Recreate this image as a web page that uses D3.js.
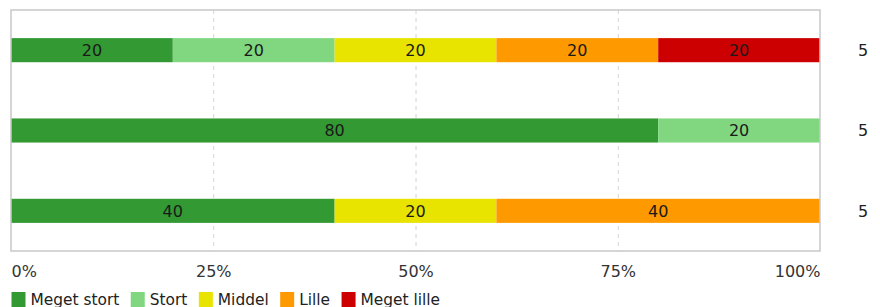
<!DOCTYPE html>
<html>
<head>
<meta charset="utf-8">
<script src="https://cdn.jsdelivr.net/npm/d3@7"></script>
<style>
  body { margin: 0; background: #fff; }
  svg { display: block; font-family: "DejaVu Sans", Verdana, sans-serif; }
</style>
</head>
<body>
<svg width="880" height="307"></svg>
<script>
// DATA
var categories = ["Meget stort", "Stort", "Middel", "Lille", "Meget lille"];
var colors = ["#339933", "#80d780", "#e8e400", "#ff9900", "#cc0000"];
var rows = ["q1", "q2", "q3"];
var meget_stort = [20, 80, 40];
var stort = [20, 20, 0];
var middel = [20, 0, 20];
var lille = [20, 0, 40];
var meget_lille = [20, 0, 0];
var counts = [5, 5, 5];
var tickValues = [0, 25, 50, 75, 100];

// SETUP
var svg = d3.select("svg"),
    margin = { top: 10, left: 11, right: 60, bottom: 56 },
    width = 880 - margin.left - margin.right,
    height = 307 - margin.top - margin.bottom,
    fontSize = "16px";

var table = rows.map(function (r, i) {
    return {
        row: r,
        "Meget stort": meget_stort[i],
        "Stort": stort[i],
        "Middel": middel[i],
        "Lille": lille[i],
        "Meget lille": meget_lille[i],
        n: counts[i]
    };
});

var x = d3.scaleLinear().domain([0, 100]).range([0, width]);
var y = d3.scaleBand().domain(rows).range([0, height]).paddingInner(0.7).paddingOuter(0.35);
var color = d3.scaleOrdinal().domain(categories).range(colors);

var g = svg.append("g")
    .attr("transform", "translate(" + margin.left + "," + margin.top + ")");

// grid
g.selectAll(".grid")
    .data(tickValues.slice(1, -1))
    .enter().append("line")
    .attr("x1", function (d) { return x(d) + 0.5; })
    .attr("x2", function (d) { return x(d) + 0.5; })
    .attr("y1", 0)
    .attr("y2", height)
    .attr("stroke", "#d4d4d4")
    .attr("stroke-dasharray", "4,4");

// bars
var stacked = d3.stack().keys(categories)(table);

var layer = g.selectAll(".layer")
    .data(stacked)
    .enter().append("g")
    .attr("fill", function (d) { return color(d.key); });

layer.selectAll("rect")
    .data(function (d) { return d; })
    .enter().append("rect")
    .attr("x", function (d) { return x(d[0]); })
    .attr("y", function (d) { return y(d.data.row); })
    .attr("width", function (d) { return x(d[1]) - x(d[0]); })
    .attr("height", y.bandwidth());

layer.selectAll("text")
    .data(function (d) { return d.filter(function (s) { return s[1] - s[0] > 0; }); })
    .enter().append("text")
    .attr("x", function (d) { return (x(d[0]) + x(d[1])) / 2; })
    .attr("y", function (d) { return y(d.data.row) + y.bandwidth() / 2; })
    .attr("dy", "0.36em")
    .attr("text-anchor", "middle")
    .attr("fill", "#1a1a1a")
    .style("font-size", fontSize)
    .text(function (d) { return d[1] - d[0]; });

// border
g.append("rect")
    .attr("x", 0)
    .attr("y", 0)
    .attr("width", width)
    .attr("height", height)
    .attr("fill", "none")
    .attr("stroke", "#c8c8c8")
    .attr("stroke-width", 1.5);

// counts on the right
g.selectAll(".count")
    .data(table)
    .enter().append("text")
    .attr("x", width + 43)
    .attr("y", function (d) { return y(d.row) + y.bandwidth() / 2; })
    .attr("dy", "0.36em")
    .attr("text-anchor", "middle")
    .attr("fill", "#222")
    .style("font-size", fontSize)
    .text(function (d) { return d.n; });

// x axis
var xAxis = g.append("g")
    .attr("transform", "translate(0," + height + ")")
    .call(d3.axisBottom(x).tickValues(tickValues).tickSize(0).tickPadding(15)
        .tickFormat(function (d) { return d + "%"; }));
xAxis.select(".domain").remove();
xAxis.selectAll("text")
    .attr("fill", "#333")
    .style("font-size", fontSize)
    .style("font-family", "DejaVu Sans, Verdana, sans-serif")
    .attr("text-anchor", function (d, i) { return i === 0 ? "start" : (i === tickValues.length - 1 ? "end" : "middle"); });

// legend
var legend = svg.append("g").attr("transform", "translate(11.5,292)");
var lx = 0;
categories.forEach(function (c) {
    var item = legend.append("g").attr("transform", "translate(" + lx + ",0)");
    item.append("rect").attr("width", 14).attr("height", 15).attr("fill", color(c));
    var t = item.append("text")
        .attr("x", 19)
        .attr("y", 13)
        .attr("fill", "#222")
        .style("font-size", "15.4px")
        .text(c);
    lx += 19 + t.node().getComputedTextLength() + 11.5;
});
</script>
</body>
</html>
